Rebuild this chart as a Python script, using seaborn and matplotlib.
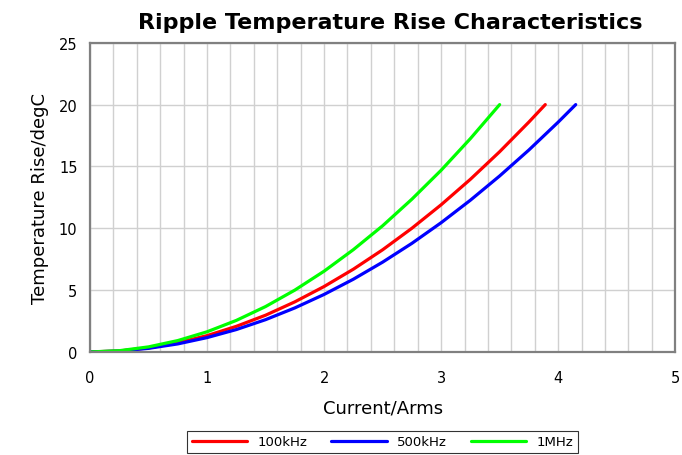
import numpy as np
import pandas as pd
import matplotlib
matplotlib.use("Agg")
import matplotlib.pyplot as plt
import seaborn as sns

# valores (corriente en Arms, subida de temperatura en degC)
i_100k = [0, 0.25, 0.5, 0.75, 1.0, 1.25, 1.5, 1.75, 2.0, 2.25, 2.5, 2.75, 3.0, 3.25, 3.5, 3.75, 3.89]
t_100k = [0, 0.08, 0.33, 0.74, 1.32, 2.07, 2.97, 4.05, 5.29, 6.69, 8.26, 10.0, 11.9, 13.96, 16.19, 18.59, 20.0]

i_500k = [0, 0.25, 0.5, 0.75, 1.0, 1.25, 1.5, 1.75, 2.0, 2.25, 2.5, 2.75, 3.0, 3.25, 3.5, 3.75, 4.0, 4.15]
t_500k = [0, 0.07, 0.29, 0.65, 1.16, 1.81, 2.61, 3.56, 4.65, 5.88, 7.26, 8.78, 10.45, 12.27, 14.23, 16.33, 18.58, 20.0]

i_1m = [0, 0.25, 0.5, 0.75, 1.0, 1.25, 1.5, 1.75, 2.0, 2.25, 2.5, 2.75, 3.0, 3.25, 3.5]
t_1m = [0, 0.10, 0.41, 0.92, 1.63, 2.55, 3.67, 5.0, 6.53, 8.27, 10.2, 12.35, 14.69, 17.25, 20.0]

series = ["100kHz", "500kHz", "1MHz"]
colores = ["#ff0000", "#0000ff", "#00ff00"]

df = pd.concat([
    pd.DataFrame({"corriente": i_100k, "temp": t_100k, "serie": series[0]}),
    pd.DataFrame({"corriente": i_500k, "temp": t_500k, "serie": series[1]}),
    pd.DataFrame({"corriente": i_1m, "temp": t_1m, "serie": series[2]}),
], ignore_index=True)

sns.set_theme(style="white")
plt.rcParams["font.family"] = ["DejaVu Sans"]
plt.rcParams["text.color"] = "black"
plt.rcParams["axes.labelcolor"] = "black"

fig = plt.figure(figsize=(6.82, 4.56), dpi=100)
ax = fig.add_axes([0.132, 0.226, 0.858, 0.678])

sns.lineplot(data=df, x="corriente", y="temp", hue="serie", hue_order=series,
             palette=colores, linewidth=2.3, sort=False, estimator=None, ax=ax)

ax.set_xlim(0, 5)
ax.set_ylim(0, 25)
ax.set_xticks(np.arange(0, 5.01, 1))
ax.set_xticks(np.arange(0, 5.01, 0.2), minor=True)
ax.set_yticks(np.arange(0, 25.1, 5))
ax.grid(True, which="both", axis="x", color="#d0d0d0", linewidth=1)
ax.grid(True, which="major", axis="y", color="#d0d0d0", linewidth=1)
ax.set_axisbelow(True)
ax.tick_params(axis="both", which="both", length=0, labelsize=10.5, colors="black")
ax.tick_params(axis="x", pad=13)
ax.tick_params(axis="y", pad=9)
for s in ax.spines.values():
    s.set_color("#808080")
    s.set_linewidth(1.6)

ax.set_xlabel("Current/Arms", fontsize=13, labelpad=10)
ax.set_ylabel("Temperature Rise/degC", fontsize=13, labelpad=7)
fig.text(0.572, 0.95, "Ripple Temperature Rise Characteristics", ha="center",
         va="center", fontsize=16, fontweight="bold")

leg = ax.legend(loc="upper center", bbox_to_anchor=(0.5, -0.255), ncol=3,
                frameon=True, fancybox=False, fontsize=9.5, handlelength=4.2,
                columnspacing=1.8, borderpad=0.35, borderaxespad=0)
leg.get_frame().set_edgecolor("black")
leg.get_frame().set_linewidth(0.8)

fig.savefig("out.png", dpi=100)
